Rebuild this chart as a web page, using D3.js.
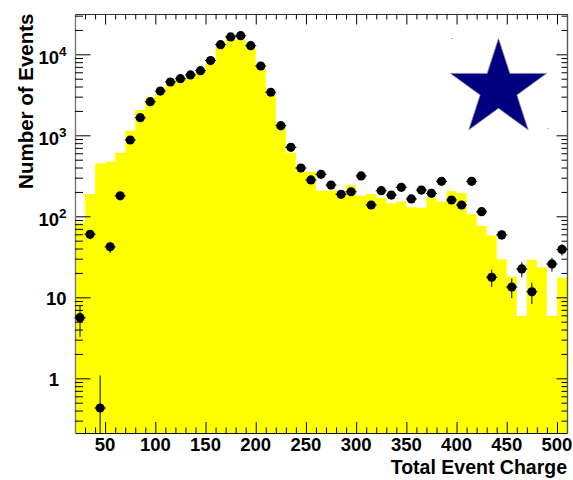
<!DOCTYPE html>
<html>
<head>
<meta charset="utf-8">
<script src="https://cdn.jsdelivr.net/npm/d3@7/dist/d3.min.js"></script>
<style>
  html, body { margin: 0; padding: 0; background: #fff; }
  svg { display: block; font-family: "Liberation Sans", Arial, Helvetica, sans-serif; font-weight: bold; }
</style>
</head>
<body>
<svg id="chart" width="573" height="480"></svg>
<script>
// Bin centres of the charge histogram (bin width 10)
const binCenters = [25, 35, 45, 55, 65, 75, 85, 95, 105, 115, 125, 135, 145, 155, 165, 175, 185, 195,
  205, 215, 225, 235, 245, 255, 265, 275, 285, 295, 305, 315, 325, 335, 345, 355, 365, 375, 385, 395,
  405, 415, 425, 435, 445, 455, 465, 475, 485, 495, 505];
const binWidth = 10;

// Simulated expectation (filled histogram)
const simulated = [83, 188, 450, 470, 610, 1140, 2050, 2940, 3400, 4300, 4900, 5300, 6000, 7740, 12400, 15300, 15300, 11800,
  6720, 3150, 1277, 610, 355, 355, 207, 207, 205, 243, 180, 188, 168, 145, 152, 129, 128, 172, 152, 205,
  194, 106, 76, 58, 29.5, 18, 5.9, 29, 23.5, 5.9, 17.5];

// Measured events (points with statistical errors); null = empty bin
const measured = [5.6, 60, 0.43, 42, 179, 875, 1650, 2600, 3520, 4550, 5000, 5570, 6280, 8360, 13140, 16370, 16980, 12790,
  7170, 3400, 1315, 711, 395, 281, 330, 243, 187, 201, 315, 138, 207, 183, 228, 164, 211, 192, 270, 159,
  138, 270, 114, 17.7, 59, 13.4, 22.4, 11.7, null, 25.8, 39];

// Axis ranges and tick labels
const xDomain = [20, 510];
const yDomain = [0.2113, 31450];
const xMajorTicks = [50, 100, 150, 200, 250, 300, 350, 400, 450, 500];
const xMinorTicks = [30, 40, 60, 70, 80, 90, 110, 120, 130, 140, 160, 170, 180, 190, 210, 220, 230, 240,
  260, 270, 280, 290, 310, 320, 330, 340, 360, 370, 380, 390, 410, 420, 430, 440, 460, 470, 480, 490, 510];
const yMajorTicks = [1, 10, 100, 1000, 10000];
const yTickLabels = [["1", null], ["10", null], ["10", "2"], ["10", "3"], ["10", "4"]];
const xTitle = "Total Event Charge";
const yTitle = "Number of Events";

const svg = d3.select("#chart");
const frame = { left: 75, right: 567, top: 14, bottom: 433 };

const x = d3.scaleLinear().domain(xDomain).range([frame.left, frame.right]);
const y = d3.scaleLog().domain(yDomain).range([frame.bottom, frame.top]);

// minor ticks of the log axis: 2..9 × each decade inside the domain
const yMinorTicks = [];
for (let e = -1; e <= 4; e++) {
  for (let m = 2; m <= 9; m++) {
    const v = m * Math.pow(10, e);
    if (v >= yDomain[0] && v <= yDomain[1]) yMinorTicks.push(v);
  }
}

// ---- filled simulation histogram (step shape) ----
const stepData = binCenters.map((c, i) => ({ edge: c - binWidth / 2, v: simulated[i] }));
stepData.push({ edge: binCenters[binCenters.length - 1] + binWidth / 2, v: simulated[simulated.length - 1] });
const area = d3.area()
  .curve(d3.curveStepAfter)
  .x(d => x(d.edge))
  .y0(frame.bottom)
  .y1(d => Math.max(frame.top, Math.min(frame.bottom, y(d.v))));
svg.append("path")
  .datum(stepData)
  .attr("d", area)
  .attr("fill", "#ffff00")
  .attr("stroke", "none");

// ---- axes ----
function styleAxis(g, lineColor) {
  g.select(".domain").attr("stroke", lineColor).attr("stroke-width", 1.2);
  g.selectAll(".tick line").attr("stroke", "#000").attr("stroke-width", 1);
  g.selectAll(".tick text").remove();
}

// bottom
svg.append("g").attr("transform", `translate(0,${frame.bottom})`)
  .call(d3.axisBottom(x).tickValues(xMajorTicks).tickSizeInner(-11).tickSizeOuter(0))
  .call(g => styleAxis(g, "#111"));
svg.append("g").attr("transform", `translate(0,${frame.bottom})`)
  .call(d3.axisBottom(x).tickValues(xMinorTicks).tickSizeInner(-5.5).tickSizeOuter(0))
  .call(g => styleAxis(g, "#111"));
// top
svg.append("g").attr("transform", `translate(0,${frame.top})`)
  .call(d3.axisTop(x).tickValues(xMajorTicks).tickSizeInner(-10.5).tickSizeOuter(0))
  .call(g => styleAxis(g, "#333"));
svg.append("g").attr("transform", `translate(0,${frame.top})`)
  .call(d3.axisTop(x).tickValues(xMinorTicks).tickSizeInner(-5.5).tickSizeOuter(0))
  .call(g => styleAxis(g, "#333"));
// left
svg.append("g").attr("transform", `translate(${frame.left},0)`)
  .call(d3.axisLeft(y).tickValues(yMajorTicks).tickSizeInner(-15.5).tickSizeOuter(0))
  .call(g => styleAxis(g, "#777"));
svg.append("g").attr("transform", `translate(${frame.left},0)`)
  .call(d3.axisLeft(y).tickValues(yMinorTicks).tickSizeInner(-8).tickSizeOuter(0))
  .call(g => styleAxis(g, "#777"));
// right
svg.append("g").attr("transform", `translate(${frame.right},0)`)
  .call(d3.axisRight(y).tickValues(yMajorTicks).tickSizeInner(-10.5).tickSizeOuter(0))
  .call(g => styleAxis(g, "#555"));
svg.append("g").attr("transform", `translate(${frame.right},0)`)
  .call(d3.axisRight(y).tickValues(yMinorTicks).tickSizeInner(-5.5).tickSizeOuter(0))
  .call(g => styleAxis(g, "#555"));

// x tick labels
svg.append("g").selectAll("text")
  .data(xMajorTicks)
  .join("text")
  .attr("x", d => x(d))
  .attr("y", frame.bottom + 17.8)
  .attr("text-anchor", "middle")
  .attr("font-size", 18.5)
  .attr("fill", "#000")
  .text(d => d);

// y tick labels (powers of ten)
const yLab = svg.append("g").selectAll("text")
  .data(yMajorTicks.map((v, i) => ({ v, base: yTickLabels[i][0], exp: yTickLabels[i][1] })))
  .join("text")
  .attr("x", d => d.exp ? 66.5 : (d.base === "1" ? 59 : 66.5))
  .attr("y", d => y(d.v) + (d.exp ? 9.5 : 8))
  .attr("text-anchor", "end")
  .attr("font-size", 18.5)
  .attr("fill", "#000");
yLab.append("tspan").text(d => d.base);
yLab.filter(d => d.exp).append("tspan")
  .attr("font-size", 13.5)
  .attr("dy", -8)
  .text(d => d.exp);

// axis titles
svg.append("text")
  .attr("x", frame.right)
  .attr("y", 474)
  .attr("text-anchor", "end")
  .attr("font-size", 19.5)
  .attr("fill", "#000")
  .text(xTitle);
svg.append("text")
  .attr("transform", `translate(33,${frame.top - 0.5}) rotate(-90)`)
  .attr("text-anchor", "end")
  .attr("font-size", 20.5)
  .attr("fill", "#000")
  .text(yTitle);

// ---- measured points with sqrt(N) error bars ----
const pts = binCenters.map((c, i) => ({ c, v: measured[i] })).filter(d => d.v != null && d.v > 0);
const clampY = v => Math.max(frame.top, Math.min(frame.bottom, v <= 0 ? frame.bottom : y(v)));
const pg = svg.append("g");
pg.selectAll("line.ey")
  .data(pts)
  .join("line")
  .attr("class", "ey")
  .attr("x1", d => x(d.c)).attr("x2", d => x(d.c))
  .attr("y1", d => clampY(d.v + Math.sqrt(d.v)))
  .attr("y2", d => clampY(d.v - Math.sqrt(d.v)))
  .attr("stroke", "#000").attr("stroke-width", 1);
pg.selectAll("line.ex")
  .data(pts)
  .join("line")
  .attr("class", "ex")
  .attr("x1", d => x(d.c - binWidth / 2) - 0.5).attr("x2", d => x(d.c + binWidth / 2) + 0.5)
  .attr("y1", d => y(d.v)).attr("y2", d => y(d.v))
  .attr("stroke", "#000").attr("stroke-width", 1);
pg.selectAll("circle")
  .data(pts)
  .join("circle")
  .attr("cx", d => x(d.c))
  .attr("cy", d => y(d.v))
  .attr("r", 4.6)
  .attr("fill", "#000");

// ---- star emblem ----
const star = { cx: 498.5, cy: 89, R: 50.5 };
const starPts = d3.range(10).map(k => {
  const rad = k % 2 === 0 ? star.R : star.R * 0.382;
  const a = k * Math.PI / 5;
  return [star.cx + rad * Math.sin(a), star.cy - rad * Math.cos(a)];
});
svg.append("polygon")
  .attr("points", starPts.map(p => p.join(",")).join(" "))
  .attr("fill", "#000080")
  .attr("stroke", "#8a8a9a")
  .attr("stroke-width", 0.8);
// faint corner specks of the emblem box
svg.append("rect").attr("x", star.cx - 47.5).attr("y", star.cy - 51).attr("width", 1.5).attr("height", 1).attr("fill", "#999");
svg.append("rect").attr("x", star.cx + 49).attr("y", star.cy + 39).attr("width", 1.5).attr("height", 1).attr("fill", "#aaa");
</script>
</body>
</html>
